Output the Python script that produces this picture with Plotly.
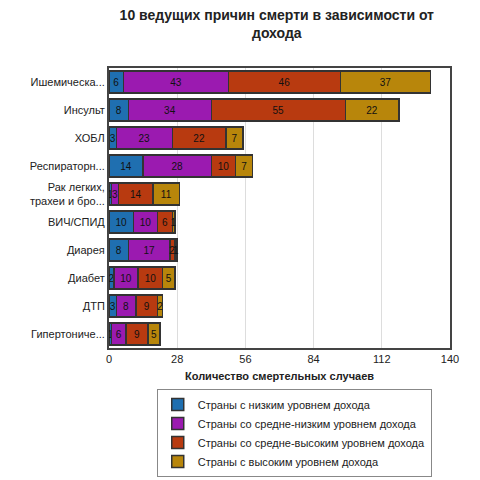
import plotly.graph_objects as go

categories = ["Ишемическа...", "Инсульт", "ХОБЛ", "Респираторн...", "Рак легких,<br>трахеи и бро...",
              "ВИЧ/СПИД", "Диарея", "Диабет", "ДТП", "Гипертониче..."]
low = [6, 8, 3, 14, 1, 10, 8, 2, 3, 1]
lowmid = [43, 34, 23, 28, 3, 10, 17, 10, 8, 6]
highmid = [46, 55, 22, 10, 14, 6, 2, 10, 9, 9]
high = [37, 22, 7, 7, 11, 1, 1, 5, 2, 5]
names = ["Страны с низким уровнем дохода", "Страны со средне-низким уровнем дохода",
         "Страны со средне-высоким уровнем дохода", "Страны с высоким уровнем дохода"]
colors = ["#1f6fb0", "#9b1ab0", "#b83a10", "#b8860b"]

fig = go.Figure()
for vals, n, c in zip([low, lowmid, highmid, high], names, colors):
    fig.add_trace(go.Bar(y=categories, x=vals, name=n, orientation="h",
                         marker=dict(color=c, line=dict(color="#333", width=1.5)),
                         text=vals, textposition="inside", insidetextanchor="middle", textangle=0,
                         textfont=dict(color="#111", size=10), constraintext="none", width=0.8))
fig.update_layout(
    barmode="stack", width=480, height=480, paper_bgcolor="white", plot_bgcolor="white",
    font=dict(family="Liberation Sans", size=11, color="#222"),
    uniformtext=dict(minsize=8, mode="show"),
    title=dict(text="<b>10 ведущих причин смерти в зависимости от<br>дохода</b>", x=0.56, y=0.975,
               font=dict(size=14, color="#222")),
    margin=dict(l=101, r=38, t=60, b=140, autoexpand=False),
    xaxis=dict(range=[0, 140], tickvals=[0, 28, 56, 84, 112, 140], showgrid=True, gridcolor="#ddd",
               showline=True, linecolor="#444", linewidth=2, mirror=True, zeroline=False, automargin=False,
               title=dict(text="<b>Количество смертельных случаев</b>", font=dict(size=11), standoff=8)),
    yaxis=dict(autorange="reversed", showline=True, linecolor="#444", linewidth=2, mirror=True,
               ticks="", automargin=False),
    legend=dict(orientation="v", x=0.14, xanchor="left", y=-0.146, yanchor="top",
                bordercolor="#888", borderwidth=1, font=dict(size=11), traceorder="normal"),
    showlegend=True,
)
fig.write_html("out.html")
